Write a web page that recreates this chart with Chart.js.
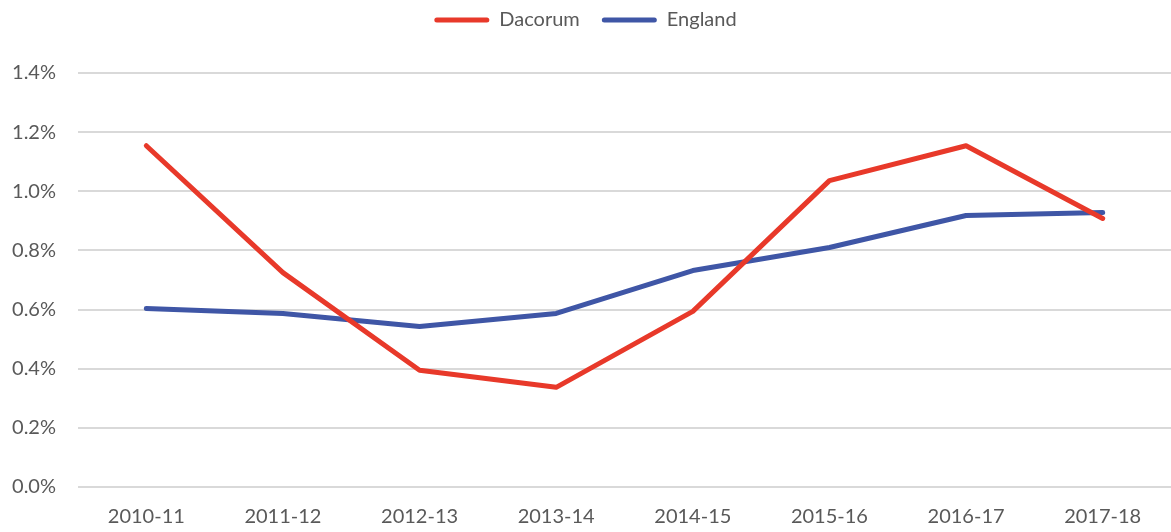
<!DOCTYPE html>
<html>
<head>
<meta charset="utf-8">
<script src="https://cdn.jsdelivr.net/npm/chart.js@4"></script>
<style>
html,body{margin:0;padding:0;background:#fff;}
#wrap{width:1171px;height:532px;}
</style>
</head>
<body>
<div id="wrap"><canvas id="chart" width="1171" height="532"></canvas></div>
<script>
// financial years
const years = ['2010-11','2011-12','2012-13','2013-14','2014-15','2015-16','2016-17','2017-18'];
// rate in %
const dacorum = [1.154, 0.725, 0.395, 0.337, 0.594, 1.036, 1.154, 0.908];
const england = [0.604, 0.587, 0.543, 0.587, 0.732, 0.810, 0.918, 0.928];

const red = '#E8392A', blue = '#3F56A6', txt = '#595959';
const font = {family:'Lato, "Open Sans", sans-serif', size:20};

// push the plot down and lift the legend a bit, like the original
const legendShift = {
  id:'legendShift',
  beforeLayout(chart){
    const lg = chart.legend;
    if(!lg || lg._shifted) return;
    lg._shifted = true;
    const fit = lg.fit, draw = lg.draw;
    lg.fit = function(){fit.call(this); this.height += 21;};
    lg.draw = function(){const c=this.ctx; c.save(); c.translate(0,-12); draw.call(this); c.restore();};
  }
};

new Chart(document.getElementById('chart'), {
  type:'line',
  data:{labels:years, datasets:[
    {label:'Dacorum', data:dacorum, borderColor:red, backgroundColor:red, borderWidth:5, pointRadius:0, tension:0, borderCapStyle:'round', borderJoinStyle:'round'},
    {label:'England', data:england, borderColor:blue, backgroundColor:blue, borderWidth:5, pointRadius:0, tension:0, borderCapStyle:'round', borderJoinStyle:'round'}
  ]},
  plugins:[legendShift],
  options:{
    responsive:false, animation:false,
    plugins:{
      tooltip:{enabled:false},
      legend:{
        position:'top',
        labels:{
          color:txt, font:font, boxWidth:55, boxHeight:5, padding:22,
          useBorderRadius:true, borderRadius:2.5,
          generateLabels(chart){
            return Chart.defaults.plugins.legend.labels.generateLabels(chart).map(l=>({...l, lineWidth:0}));
          }
        }
      }
    },
    scales:{
      x:{
        offset:true,
        grid:{display:false, drawTicks:false},
        border:{display:false},
        ticks:{color:txt, font:font, padding:18, maxRotation:0},
        afterFit(s){s.height=45;}
      },
      y:{
        min:0, max:1.4,
        grid:{color:'#D9D9D9', lineWidth:2, drawTicks:false},
        border:{display:false},
        ticks:{stepSize:0.2, color:txt, font:font, padding:22, callback:v=>v.toFixed(1)+'%'},
        afterFit(s){s.width=78;}
      }
    }
  }
});
</script>
</body>
</html>
